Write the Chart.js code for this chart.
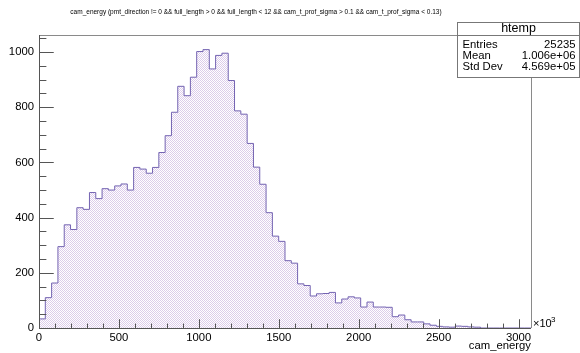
<!DOCTYPE html>
<html>
<head>
<meta charset="utf-8">
<script src="https://cdn.jsdelivr.net/npm/chart.js@4.4.1/dist/chart.umd.min.js"></script>
<style>
  body { margin: 0; background: #fff; }
  canvas { display: block; }
</style>
</head>
<body>
<canvas id="hist" width="580" height="353"></canvas>
<script>
// cam_energy histogram, values (x in units of 10^3)
var binWidth = 39.46;
var xMax = 3078;
var counts = [
  3, 33, 110, 163, 295, 374, 357, 436, 430, 491,
  469, 505, 500, 515, 522, 500, 582, 576, 561, 582,
  636, 697, 782, 876, 842, 909, 1002, 1009, 939, 988,
  996, 897, 787, 775, 669, 583, 521, 418, 333, 314,
  244, 235, 160, 154, 116, 124, 125, 129, 91, 105,
  113, 109, 76, 94, 76, 76, 75, 41, 47, 30,
  22, 22, 15, 10, 6, 4, 3, 7, 6, 4,
  3, 0, 0, 0, 0, 0, 0, 0
];
var xTicks = [0, 500, 1000, 1500, 2000, 2500, 3000];
var yTicks = [0, 200, 400, 600, 800, 1000];
var yMax = 1062;

var titleText = "cam_energy (pmt_direction != 0 && full_length > 0 && full_length < 12 && cam_t_prof_sigma > 0.1 && cam_t_prof_sigma < 0.13)";
var statsName = "htemp";
var statsRows = [["Entries", "25235"], ["Mean", "1.006e+06"], ["Std Dev", "4.569e+05"]];

var FONT = "Liberation Sans, Arial, Helvetica, sans-serif";

// step points: one per bin left edge, plus the closing edge
var points = counts.map(function (c, i) { return { x: i * binWidth, y: c }; });
points.push({ x: counts.length * binWidth, y: counts[counts.length - 1] });

var ctx = document.getElementById("hist").getContext("2d");

// checker fill like ROOT's fill style
var pc = document.createElement("canvas");
pc.width = 2; pc.height = 2;
var pg = pc.getContext("2d");
pg.fillStyle = "#ffffff";
pg.fillRect(0, 0, 2, 2);
pg.fillStyle = "rgb(220,204,234)";
pg.fillRect(0, 0, 1, 1);
pg.fillRect(1, 1, 1, 1);
var checker = ctx.createPattern(pc, "repeat");

var rootDecor = {
  id: "rootDecor",
  afterDatasetsDraw: function (chart) {
    var c = chart.ctx;
    var a = chart.chartArea;
    var xs = chart.scales.x, ys = chart.scales.y;
    c.save();

    // frame
    c.strokeStyle = "#8a8a8a";
    c.lineWidth = 1;
    c.beginPath();
    c.moveTo(a.left, a.top + 0.5);
    c.lineTo(a.right + 0.5, a.top + 0.5);
    c.lineTo(a.right + 0.5, a.bottom);
    c.stroke();

    c.strokeStyle = "#555";
    c.beginPath();
    c.moveTo(a.left + 0.5, a.top);
    c.lineTo(a.left + 0.5, a.bottom + 0.5);
    c.lineTo(a.right, a.bottom + 0.5);
    c.stroke();

    // x ticks (inside)
    var xLen = 0.03 * (a.bottom - a.top);
    c.beginPath();
    for (var v = 0; v <= xMax; v += 100) {
      var px = Math.round(xs.getPixelForValue(v)) + 0.5;
      var len = (v % 500 === 0) ? xLen : xLen / 2;
      c.moveTo(px, a.bottom);
      c.lineTo(px, a.bottom - len);
    }
    // y ticks (inside)
    var yLen = 0.03 * (a.right - a.left);
    for (var w = 0; w <= yMax; w += 50) {
      var py = Math.round(ys.getPixelForValue(w)) + 0.5;
      var l2 = (w % 200 === 0) ? yLen : yLen / 2;
      c.moveTo(a.left, py);
      c.lineTo(a.left + l2, py);
    }
    c.stroke();

    c.fillStyle = "#000";
    // title
    c.font = "6.5px " + FONT;
    c.textAlign = "center";
    c.textBaseline = "middle";
    c.fillText(titleText, 256, 12);

    // axis title and exponent
    c.font = "11.3px " + FONT;
    c.textAlign = "right";
    c.textBaseline = "alphabetic";
    c.fillText("cam_energy", a.right, 349);
    c.textAlign = "left";
    c.font = "11px " + FONT;
    c.fillText("\u00d710", a.right + 2, 327);
    c.font = "8px " + FONT;
    c.fillText("3", a.right + 20, 322);

    // stats box
    var bx = 457.5, by = 22.5, bw = 122, bh = 55;
    c.fillStyle = "#fff";
    c.fillRect(bx, by, bw, bh);
    c.strokeStyle = "#777";
    c.strokeRect(bx, by, bw, bh);
    c.beginPath();
    c.moveTo(bx, 35.5);
    c.lineTo(bx + bw, 35.5);
    c.stroke();
    c.fillStyle = "#000";
    c.font = "12.5px " + FONT;
    c.textAlign = "center";
    c.textBaseline = "middle";
    c.fillText(statsName, bx + bw / 2, 29);
    c.font = "11.3px " + FONT;
    statsRows.forEach(function (r, i) {
      var ry = 45 + i * 11;
      c.textAlign = "left";
      c.fillText(r[0], bx + 5, ry);
      c.textAlign = "right";
      c.fillText(r[1], bx + bw - 4, ry);
    });
    c.restore();
  }
};

var chart = new Chart(ctx, {
  type: "line",
  data: {
    datasets: [{
      label: statsName,
      data: points,
      stepped: "after",
      fill: "origin",
      backgroundColor: checker,
      borderColor: "rgb(116,100,178)",
      borderWidth: 1,
      pointRadius: 0
    }]
  },
  options: {
    responsive: false,
    devicePixelRatio: 1,
    animation: false,
    layout: { padding: { left: 0, right: 49, top: 35, bottom: 0 } },
    plugins: { legend: { display: false }, tooltip: { enabled: false } },
    scales: {
      x: {
        type: "linear",
        min: 0,
        max: xMax,
        grid: { display: false, drawTicks: false },
        border: { display: false },
        afterBuildTicks: function (s) { s.ticks = xTicks.map(function (v) { return { value: v }; }); },
        afterFit: function (s) { s.height = 25; },
        ticks: {
          padding: 3, maxRotation: 0, autoSkip: false, color: "#000",
          font: { family: FONT, size: 11.3 },
          callback: function (v) { return String(v); }
        }
      },
      y: {
        min: 0,
        max: yMax,
        grid: { display: false, drawTicks: false },
        border: { display: false },
        afterBuildTicks: function (s) { s.ticks = yTicks.map(function (v) { return { value: v }; }); },
        afterFit: function (s) { s.width = 39; },
        ticks: {
          padding: 5, color: "#000",
          font: { family: FONT, size: 11.3 },
          callback: function (v) { return String(v); }
        }
      }
    }
  },
  plugins: [rootDecor]
});
</script>
</body>
</html>
